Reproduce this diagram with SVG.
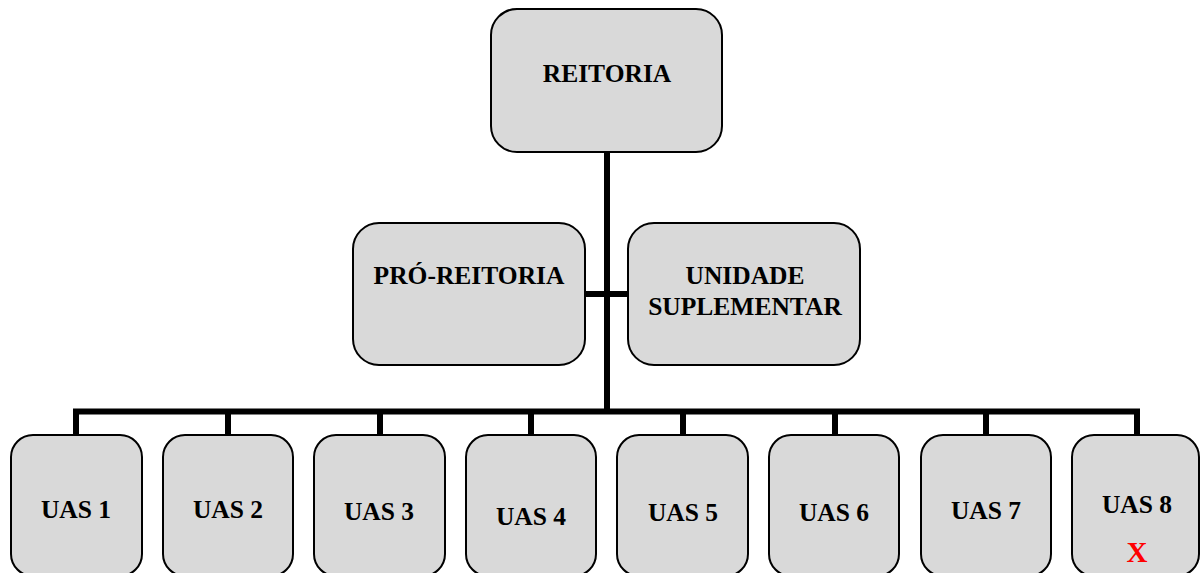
<svg xmlns="http://www.w3.org/2000/svg" width="1201" height="573" viewBox="0 0 1201 573">
<style>
.box{fill:#d9d9d9;stroke:#000;stroke-width:2}
.lbl{font-family:"Liberation Serif","Times New Roman",serif;font-weight:bold;font-size:25.5px;fill:#000;text-anchor:middle}
.x{font-family:"Liberation Serif","Times New Roman",serif;font-weight:bold;font-size:29px;fill:#ff0000;text-anchor:middle}
.c{stroke:#000;fill:none;stroke-width:6}
</style>
<rect width="1201" height="573" fill="#fff"/>
<g id="connectors">
<line class="c" x1="607" y1="152" x2="607" y2="412"/>
<line class="c" x1="585" y1="294" x2="628" y2="294" stroke-width="5"/>
<polyline class="c" points="76,436 76,411.5 1137,411.5 1137,436"/>
<line class="c" x1="228" y1="411" x2="228" y2="436"/>
<line class="c" x1="380" y1="411" x2="380" y2="436"/>
<line class="c" x1="531" y1="411" x2="531" y2="436"/>
<line class="c" x1="683" y1="411" x2="683" y2="436"/>
<line class="c" x1="835" y1="411" x2="835" y2="436"/>
<line class="c" x1="986" y1="411" x2="986" y2="436"/>
</g>
<g id="reitoria">
<rect class="box" x="491" y="9" width="231" height="143" rx="26"/>
<text class="lbl" x="607" y="82">REITORIA</text>
</g>
<g id="pro-reitoria">
<rect class="box" x="353" y="223" width="232" height="142" rx="26"/>
<text class="lbl" x="469" y="284">PRÓ-REITORIA</text>
</g>
<g id="unidade-suplementar">
<rect class="box" x="628" y="223" width="232" height="142" rx="26"/>
<text class="lbl" x="745" y="284">UNIDADE</text>
<text class="lbl" x="745" y="315">SUPLEMENTAR</text>
</g>
<g id="uas1">
<rect class="box" x="11" y="435" width="131" height="141" rx="22"/>
<text class="lbl" x="76" y="518">UAS 1</text>
</g>
<g id="uas2">
<rect class="box" x="163" y="435" width="130" height="141" rx="22"/>
<text class="lbl" x="228" y="518">UAS 2</text>
</g>
<g id="uas3">
<rect class="box" x="314" y="435" width="131" height="141" rx="22"/>
<text class="lbl" x="379" y="520">UAS 3</text>
</g>
<g id="uas4">
<rect class="box" x="466" y="435" width="130" height="141" rx="22"/>
<text class="lbl" x="531" y="525">UAS 4</text>
</g>
<g id="uas5">
<rect class="box" x="617" y="435" width="131" height="141" rx="22"/>
<text class="lbl" x="683" y="521">UAS 5</text>
</g>
<g id="uas6">
<rect class="box" x="769" y="435" width="130" height="141" rx="22"/>
<text class="lbl" x="834" y="521">UAS 6</text>
</g>
<g id="uas7">
<rect class="box" x="921" y="435" width="130" height="141" rx="22"/>
<text class="lbl" x="986" y="519">UAS 7</text>
</g>
<g id="uas8">
<rect class="box" x="1072" y="435" width="127" height="141" rx="22"/>
<text class="lbl" x="1137" y="513">UAS 8</text>
<text class="x" x="1137" y="562">X</text>
</g>
</svg>
